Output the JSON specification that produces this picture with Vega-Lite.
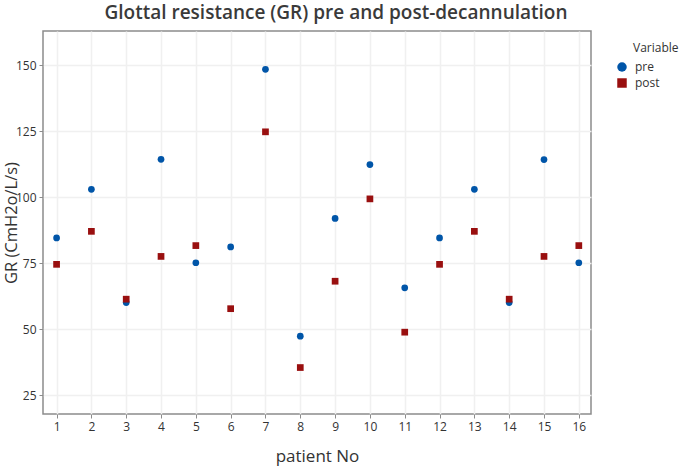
{
  "$schema": "https://vega.github.io/schema/vega-lite/v6.json",
  "autosize": {"type": "none"},
  "width": 548,
  "height": 383,
  "padding": {"left": 43, "top": 31, "right": 94, "bottom": 55},
  "background": "white",
  "title": {
    "text": "Glottal resistance (GR) pre and post-decannulation",
    "font": "Open Sans",
    "fontSize": 19,
    "fontWeight": 600,
    "color": "#3a3a3a",
    "anchor": "middle",
    "dx": 19,
    "offset": 8
  },
  "config": {
    "view": {"stroke": "#8c8c8c", "strokeWidth": 1.5},
    "font": "Open Sans"
  },
  "data": {
    "values": [
      {"patient": 1, "Variable": "pre", "GR": 84.6},
      {"patient": 1, "Variable": "post", "GR": 74.6},
      {"patient": 2, "Variable": "pre", "GR": 103.0},
      {"patient": 2, "Variable": "post", "GR": 87.1},
      {"patient": 3, "Variable": "pre", "GR": 60.1},
      {"patient": 3, "Variable": "post", "GR": 61.4},
      {"patient": 4, "Variable": "pre", "GR": 114.4},
      {"patient": 4, "Variable": "post", "GR": 77.6},
      {"patient": 5, "Variable": "pre", "GR": 75.2},
      {"patient": 5, "Variable": "post", "GR": 81.7},
      {"patient": 6, "Variable": "pre", "GR": 81.2},
      {"patient": 6, "Variable": "post", "GR": 57.8},
      {"patient": 7, "Variable": "pre", "GR": 148.5},
      {"patient": 7, "Variable": "post", "GR": 124.8},
      {"patient": 8, "Variable": "pre", "GR": 47.4},
      {"patient": 8, "Variable": "post", "GR": 35.5},
      {"patient": 9, "Variable": "pre", "GR": 92.0},
      {"patient": 9, "Variable": "post", "GR": 68.2},
      {"patient": 10, "Variable": "pre", "GR": 112.4},
      {"patient": 10, "Variable": "post", "GR": 99.4},
      {"patient": 11, "Variable": "pre", "GR": 65.7},
      {"patient": 11, "Variable": "post", "GR": 48.9},
      {"patient": 12, "Variable": "pre", "GR": 84.6},
      {"patient": 12, "Variable": "post", "GR": 74.6},
      {"patient": 13, "Variable": "pre", "GR": 103.0},
      {"patient": 13, "Variable": "post", "GR": 87.1},
      {"patient": 14, "Variable": "pre", "GR": 60.1},
      {"patient": 14, "Variable": "post", "GR": 61.4},
      {"patient": 15, "Variable": "pre", "GR": 114.3},
      {"patient": 15, "Variable": "post", "GR": 77.6},
      {"patient": 16, "Variable": "pre", "GR": 75.2},
      {"patient": 16, "Variable": "post", "GR": 81.7}
    ]
  },
  "mark": {"type": "point", "filled": true, "opacity": 1, "size": 45},
  "encoding": {
    "x": {
      "field": "patient",
      "type": "quantitative",
      "scale": {"domain": [0.61, 16.35], "nice": false, "zero": false},
      "axis": {
        "title": "patient No",
        "values": [1,2,3,4,5,6,7,8,9,10,11,12,13,14,15,16],
        "format": "d",
        "grid": true,
        "gridColor": "#f0f0f0",
        "gridWidth": 1.5,
        "domain": false,
        "tickColor": "#8c8c8c",
        "tickSize": 4,
        "labelFontSize": 12,
        "labelColor": "#333333",
        "labelPadding": 3,
        "titleFontSize": 17,
        "titleFontWeight": "normal",
        "titleColor": "#333333",
        "titlePadding": 16
      }
    },
    "y": {
      "field": "GR",
      "type": "quantitative",
      "scale": {"domain": [17.9, 163], "nice": false, "zero": false},
      "axis": {
        "title": "GR (CmH2o/L/s)",
        "values": [25, 50, 75, 100, 125, 150],
        "grid": true,
        "gridColor": "#f0f0f0",
        "gridWidth": 1.5,
        "domain": false,
        "tickColor": "#8c8c8c",
        "tickSize": 4,
        "labelFontSize": 12,
        "labelColor": "#333333",
        "labelPadding": 3,
        "titleFontSize": 16.5,
        "titleFontWeight": "normal",
        "titleColor": "#333333",
        "titlePadding": -4
      }
    },
    "color": {
      "field": "Variable",
      "type": "nominal",
      "scale": {"domain": ["pre", "post"], "range": ["#0055A8", "#990F0F"]},
      "legend": {
        "orient": "none",
        "legendX": 590,
        "legendY": 12,
        "titleFontSize": 12,
        "titleFontWeight": "normal",
        "titleColor": "#333333",
        "labelFontSize": 12,
        "labelColor": "#333333",
        "symbolSize": 90,
        "symbolOpacity": 1,
        "symbolOffset": -17,
        "labelOffset": 7,
        "rowPadding": 0,
        "titlePadding": 6
      }
    },
    "shape": {
      "field": "Variable",
      "type": "nominal",
      "scale": {"domain": ["pre", "post"], "range": ["circle", "square"]}
    }
  }
}
